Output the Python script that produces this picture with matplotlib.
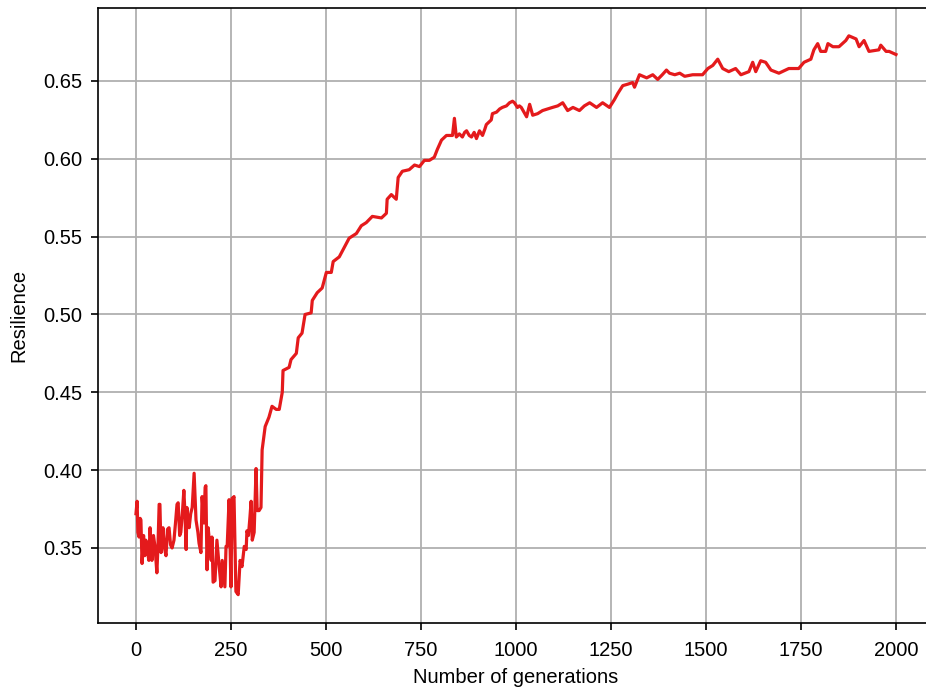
import numpy as np
import matplotlib
matplotlib.use("Agg")
import matplotlib.pyplot as plt

# -- Data --

generations = [
    0, 3, 5, 8, 11, 13, 16, 20, 23, 26, 30, 34, 37, 40, 42, 46, 50, 55, 58,
    61, 63, 66, 71, 75, 79, 83, 87, 91, 95, 100, 104, 108, 111, 115, 118,
    122, 126, 129, 132, 134, 137, 140, 144, 148, 153, 158, 163, 166, 171,
    174, 179, 182, 184, 187, 190, 194, 198, 200, 203, 208, 213, 219, 224,
    227, 230, 234, 237, 240, 245, 250, 253, 256, 258, 263, 269, 274, 279,
    285, 290, 292, 296, 300, 303, 306, 311, 316, 319, 324, 329, 332, 340,
    350, 358, 369, 377, 385, 387, 403, 408, 422, 427, 437, 445, 461, 464,
    477, 490, 501, 514, 519, 535, 548, 561, 580, 593, 606, 622, 646, 659,
    661, 672, 685, 690, 701, 719, 733, 746, 759, 772, 785, 793, 804, 817,
    833, 838, 843, 851, 859, 865, 870, 877, 883, 890, 896, 904, 912, 918,
    922, 935, 938, 949, 957, 964, 975, 983, 991, 996, 1004, 1009, 1014,
    1021, 1028, 1036, 1044, 1057, 1070, 1083, 1096, 1110, 1123, 1136, 1150,
    1167, 1180, 1194, 1212, 1228, 1246, 1259, 1268, 1281, 1295, 1307, 1312,
    1325, 1344, 1360, 1373, 1385, 1396, 1404, 1418, 1431, 1444, 1465, 1491,
    1505, 1518, 1531, 1544, 1560, 1578, 1592, 1613, 1623, 1631, 1644, 1657,
    1671, 1692, 1718, 1744, 1758, 1776, 1784, 1794, 1802, 1815, 1821, 1834,
    1850, 1868, 1876, 1895, 1903, 1916, 1929, 1955, 1960, 1974, 1982, 2000,
]
resilience = [
    0.372, 0.380, 0.360, 0.357, 0.369, 0.368, 0.340, 0.358, 0.345, 0.355,
    0.348, 0.342, 0.363, 0.350, 0.342, 0.358, 0.351, 0.334, 0.352, 0.378,
    0.378, 0.347, 0.363, 0.350, 0.345, 0.362, 0.363, 0.352, 0.350, 0.355,
    0.366, 0.378, 0.379, 0.358, 0.360, 0.372, 0.387, 0.372, 0.349, 0.376,
    0.365, 0.363, 0.372, 0.376, 0.398, 0.368, 0.360, 0.353, 0.347, 0.383,
    0.366, 0.389, 0.390, 0.336, 0.363, 0.352, 0.342, 0.357, 0.328, 0.329,
    0.355, 0.338, 0.325, 0.342, 0.335, 0.325, 0.351, 0.351, 0.381, 0.325,
    0.382, 0.382, 0.383, 0.322, 0.320, 0.342, 0.338, 0.351, 0.349, 0.361,
    0.358, 0.370, 0.380, 0.355, 0.360, 0.401, 0.374, 0.374, 0.376, 0.413,
    0.428, 0.434, 0.441, 0.439, 0.439, 0.450, 0.464, 0.466, 0.471, 0.475,
    0.485, 0.488, 0.500, 0.501, 0.509, 0.514, 0.517, 0.527, 0.527, 0.534,
    0.537, 0.543, 0.549, 0.552, 0.557, 0.559, 0.563, 0.562, 0.565, 0.574,
    0.577, 0.574, 0.588, 0.592, 0.593, 0.596, 0.595, 0.599, 0.599, 0.601,
    0.606, 0.612, 0.615, 0.615, 0.626, 0.614, 0.616, 0.614, 0.617, 0.618,
    0.615, 0.614, 0.617, 0.613, 0.618, 0.615, 0.619, 0.622, 0.625, 0.629,
    0.630, 0.632, 0.633, 0.634, 0.636, 0.637, 0.636, 0.633, 0.634, 0.633,
    0.630, 0.627, 0.635, 0.628, 0.629, 0.631, 0.632, 0.633, 0.634, 0.636,
    0.631, 0.633, 0.631, 0.634, 0.636, 0.633, 0.636, 0.633, 0.638, 0.642,
    0.647, 0.648, 0.649, 0.646, 0.654, 0.652, 0.654, 0.651, 0.654, 0.657,
    0.655, 0.654, 0.655, 0.653, 0.654, 0.654, 0.658, 0.660, 0.664, 0.658,
    0.656, 0.658, 0.654, 0.656, 0.662, 0.656, 0.663, 0.662, 0.657, 0.655,
    0.658, 0.658, 0.662, 0.664, 0.670, 0.674, 0.669, 0.669, 0.674, 0.672,
    0.672, 0.676, 0.679, 0.677, 0.672, 0.676, 0.669, 0.670, 0.673, 0.669,
    0.669, 0.667,
]

xticks = [0, 250, 500, 750, 1000, 1250, 1500, 1750, 2000]
yticks = [0.35, 0.40, 0.45, 0.50, 0.55, 0.60, 0.65]

# -- Plotting code --

plt.rcParams["font.family"] = ["Liberation Sans", "DejaVu Sans"]
plt.rcParams["font.size"] = 14.5

fig = plt.figure(figsize=(9.26, 6.87), dpi=100)
# right edge of the axes lies just past the figure, as in the cropped original
ax = fig.add_axes([0.1058, 0.0932, 0.9028, 0.8952])

ax.plot(generations, resilience, color="#e41a1c", lw=2.3, zorder=3)

ax.set_xlim(-100, 2100)
ax.set_ylim(0.3018, 0.6969)
ax.set_xticks(xticks)
ax.set_yticks(yticks)
ax.set_yticklabels([f"{v:.2f}" for v in yticks])
ax.grid(True, color="#b0b0b0", lw=1.3)
ax.set_axisbelow(True)
ax.tick_params(direction="out", length=5, width=1.2, labelsize=14.5)
ax.tick_params(axis="x", pad=8)
ax.tick_params(axis="y", pad=6)
for s in ax.spines.values():
    s.set_linewidth(1.2)

ax.set_xlabel("Number of generations", fontsize=14.5, labelpad=5.5)
ax.set_ylabel("Resilience", fontsize=14.5, labelpad=11)

fig.savefig("out.png", dpi=100)
